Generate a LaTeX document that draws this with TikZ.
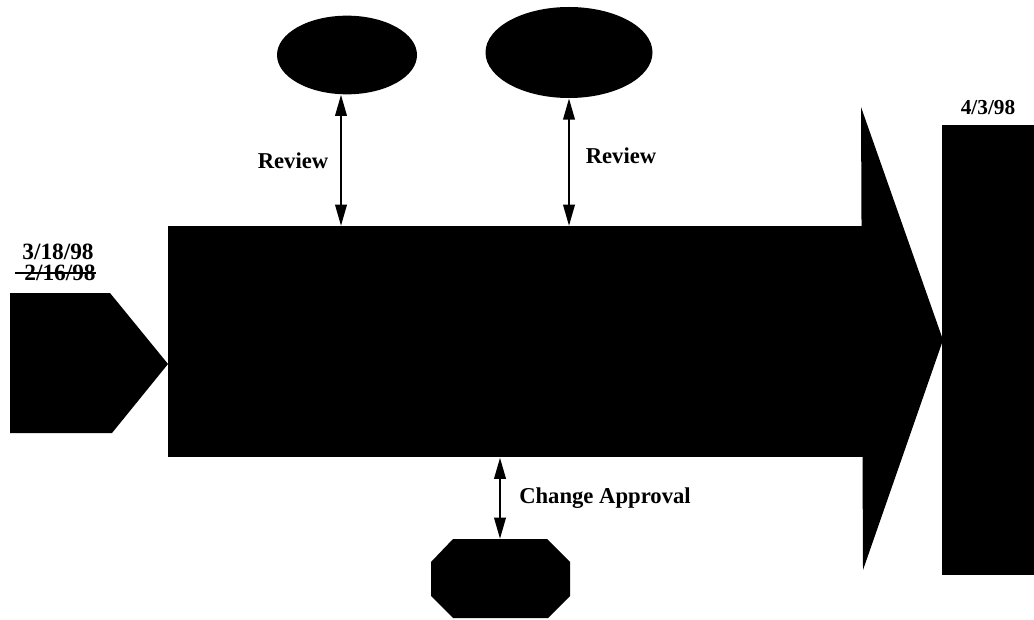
\documentclass[tikz,border=0pt]{standalone}
\usepackage{fontspec}
\setmainfont{Liberation Serif}
\usetikzlibrary{arrows.meta,shapes.geometric}
\tikzset{
  blk/.style={fill=black,draw=none,inner sep=0pt},
  lbl/.style={font=\fontsize{17}{19}\selectfont\bfseries,inner sep=0pt},
  datelbl/.style={font=\fontsize{16}{18}\selectfont\bfseries,inner sep=0pt},
  bigdate/.style={font=\fontsize{17.5}{19}\selectfont\bfseries,inner sep=0pt},
  dbl/.style={line width=2pt,{Triangle[length=16pt,width=8.5pt]}-{Triangle[length=16pt,width=8.5pt]}}
}
\begin{document}
\begin{tikzpicture}[x=0.75pt,y=-0.75pt]
\useasboundingbox (0,0) rectangle (1034,620);
% start pentagon
\fill (10,293) -- (110,293) -- (168,364) -- (112,433) -- (10,433) -- cycle;
% main arrow body and head
\node[blk,anchor=north west,minimum width=521.25pt,minimum height=173.25pt] (body) at (168,226) {};
\fill (861,107) -- (943,340) -- (863,570) -- cycle;
% end box
\node[blk,anchor=north west,minimum width=69pt,minimum height=337.5pt] (endbox) at (942,125) {};
% ellipses
\node[blk,ellipse,minimum width=105pt,minimum height=59pt] (e1) at (347,55) {};
\node[blk,ellipse,minimum width=125.25pt,minimum height=68.25pt] (e2) at (569,52.5) {};
\coordinate (t1) at ([xshift=-4.5pt]e1.south);
% octagon
\fill (453,539) -- (547,539) -- (570,562) -- (570,596) -- (548,618) -- (453,618) -- (431,596) -- (431,562) -- cycle;
\coordinate (oct) at (500,539);
% connectors
\draw[dbl] (t1) -- (t1 |- body.north);
\draw[dbl] (e2.south) -- (e2.south |- body.north);
\draw[dbl] (oct |- body.south) -- (oct);
% labels
\node[lbl] (r1) at (293,161) {Review};
\node[lbl] (r2) at (621,156) {Review};
\node[lbl] (ca) at (605,498) {Change Approval};
\node[bigdate] (d1) at (58,252) {3/18/98};
\node[bigdate] (d2) at (60,273) {2/16/98};
\draw[line width=1.8pt] (d2.west) ++(-9,0) -- (d2.east);
\node[datelbl] (d3) at (988,108) {4/3/98};
\end{tikzpicture}
\end{document}
